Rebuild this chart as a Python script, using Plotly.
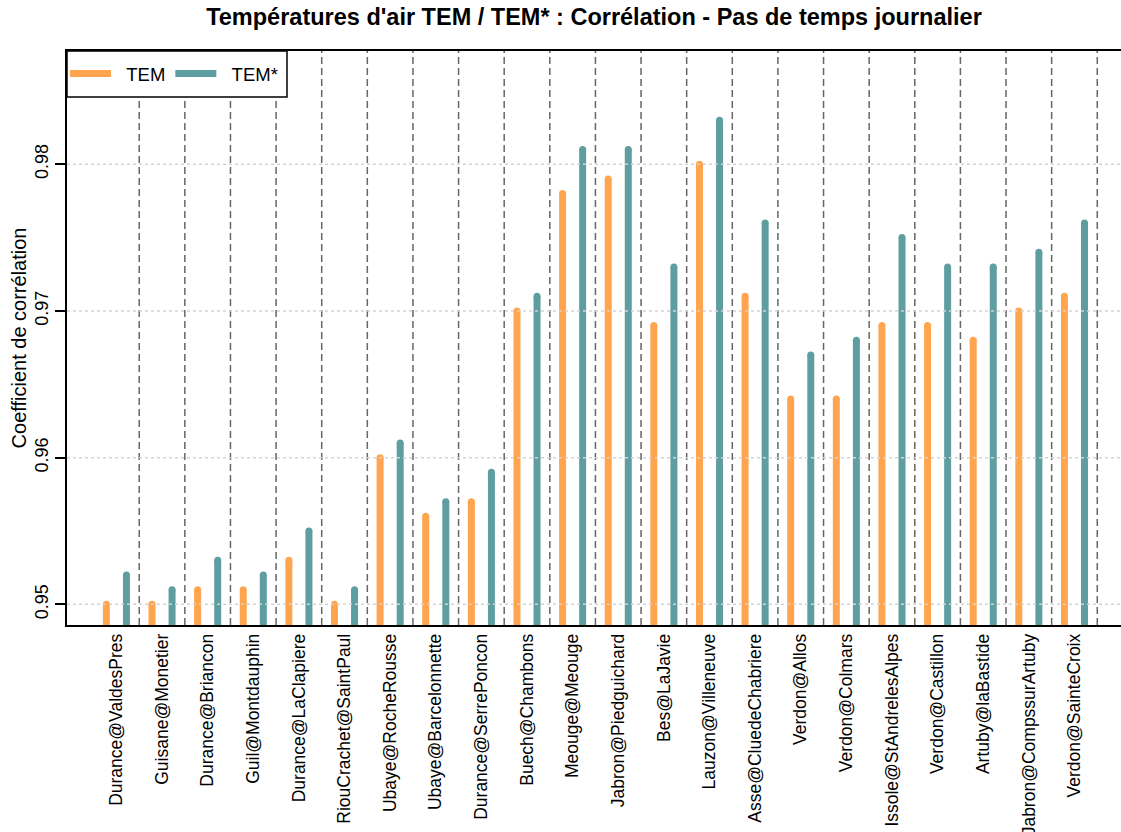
import plotly.graph_objects as go

# Stations and daily air-temperature correlation coefficients
stations = [
    "Durance@ValdesPres", "Guisane@Monetier", "Durance@Briancon", "Guil@Montdauphin",
    "Durance@LaClapiere", "RiouCrachet@SaintPaul", "Ubaye@RocheRousse", "Ubaye@Barcelonnette",
    "Durance@SerrePoncon", "Buech@Chambons", "Meouge@Meouge", "Jabron@Piedguichard",
    "Bes@LaJavie", "Lauzon@Villeneuve", "Asse@CluedeChabriere", "Verdon@Allos",
    "Verdon@Colmars", "Issole@StAndrelesAlpes", "Verdon@Castillon", "Artuby@laBastide",
    "Jabron@CompssurArtuby", "Verdon@SainteCroix",
]
tem = [0.950, 0.950, 0.951, 0.951, 0.953, 0.950, 0.960, 0.956, 0.957, 0.970, 0.978,
       0.979, 0.969, 0.980, 0.971, 0.964, 0.964, 0.969, 0.969, 0.968, 0.970, 0.971]
tem_star = [0.952, 0.951, 0.953, 0.952, 0.955, 0.951, 0.961, 0.957, 0.959, 0.971, 0.981,
            0.981, 0.973, 0.983, 0.976, 0.967, 0.968, 0.975, 0.973, 0.973, 0.974, 0.976]
y_ticks = [0.95, 0.96, 0.97, 0.98]

ORANGE = "#FFA54F"
TEAL = "#5F9EA0"
FONT = "Liberation Sans, Arial, sans-serif"
LW = 7
OFFSET = 0.22

idx = list(range(1, len(stations) + 1))


def spikes(xs, ys):
    """Vertical segments from 0 up to each value (R type='h' style)."""
    px, py = [], []
    for x, y in zip(xs, ys):
        px += [x, x, None]
        py += [0, y, None]
    return px, py


fig = go.Figure()
for name, vals, color, off in [("TEM", tem, ORANGE, -OFFSET), ("TEM*", tem_star, TEAL, OFFSET)]:
    xs = [i + off for i in idx]
    sx, sy = spikes(xs, vals)
    fig.add_trace(go.Scatter(x=sx, y=sy, mode="lines", name="&nbsp;&nbsp;" + name,
                             line=dict(color=color, width=LW), hoverinfo="skip"))
    # rounded line ends
    fig.add_trace(go.Scatter(x=xs, y=vals, mode="markers", showlegend=False,
                             marker=dict(color=color, size=LW, line=dict(width=0)),
                             hoverinfo="skip"))

shapes = []
# separators between stations
for i in idx:
    shapes.append(dict(type="line", xref="x", yref="paper", x0=i + 0.5, x1=i + 0.5,
                       y0=0, y1=1, line=dict(color="#666666", width=1.5, dash="7px,4px"),
                       layer="above"))
# horizontal dotted grid
for v in y_ticks:
    shapes.append(dict(type="line", xref="paper", yref="y", x0=0, x1=1, y0=v, y1=v,
                       line=dict(color="#d3d3d3", width=1.5, dash="3px,3px"), layer="above"))
# legend frame
PLOT_W, PLOT_H = 1054, 574
shapes.append(dict(type="rect", xref="paper", yref="paper", x0=0, x1=220 / PLOT_W,
                   y0=1 - 46 / PLOT_H, y1=1, fillcolor="white",
                   line=dict(color="black", width=1.5), layer="above"))

fig.update_layout(
    width=1121, height=832,
    margin=dict(l=67, r=0, t=51, b=207, autoexpand=False),
    paper_bgcolor="white", plot_bgcolor="white",
    font=dict(family=FONT, size=18, color="black"),
    title=dict(text="<b>Températures d'air TEM / TEM* : Corrélation - Pas de temps journalier</b>",
               x=0.5, xref="paper", xanchor="center", y=1 - 17 / 832, yref="container",
               yanchor="middle", font=dict(size=23.5, family=FONT, color="black")),
    shapes=shapes,
    showlegend=True,
    legend=dict(x=-2 / PLOT_W, y=1 - 23 / PLOT_H, xanchor="left", yanchor="middle",
                orientation="h", bgcolor="rgba(0,0,0,0)", borderwidth=0,
                font=dict(size=18.5, family=FONT), itemwidth=41),
)

fig.update_xaxes(
    range=[-0.083, 23.02], tickmode="array", tickvals=idx, ticktext=stations,
    tickangle=-90, ticks="", showgrid=False, zeroline=False, automargin=False,
    showline=True, linecolor="black", linewidth=1.5, mirror=True,
    tickfont=dict(size=17.5, family=FONT, color="black"),
)
fig.update_yaxes(
    range=[0.94859, 0.98772], tickmode="array", tickvals=y_ticks,
    ticktext=[f"{v:.2f}" for v in y_ticks], tickangle=-90, automargin=False,
    ticks="outside", ticklen=10, tickwidth=1.5, tickcolor="black",
    showgrid=False, zeroline=False, showline=True, linecolor="black", linewidth=1.5,
    tickfont=dict(size=18, family=FONT, color="black"),
    title=dict(text="Coefficient de corrélation", font=dict(size=20, family=FONT), standoff=0),
)

fig.write_html("out.html")
